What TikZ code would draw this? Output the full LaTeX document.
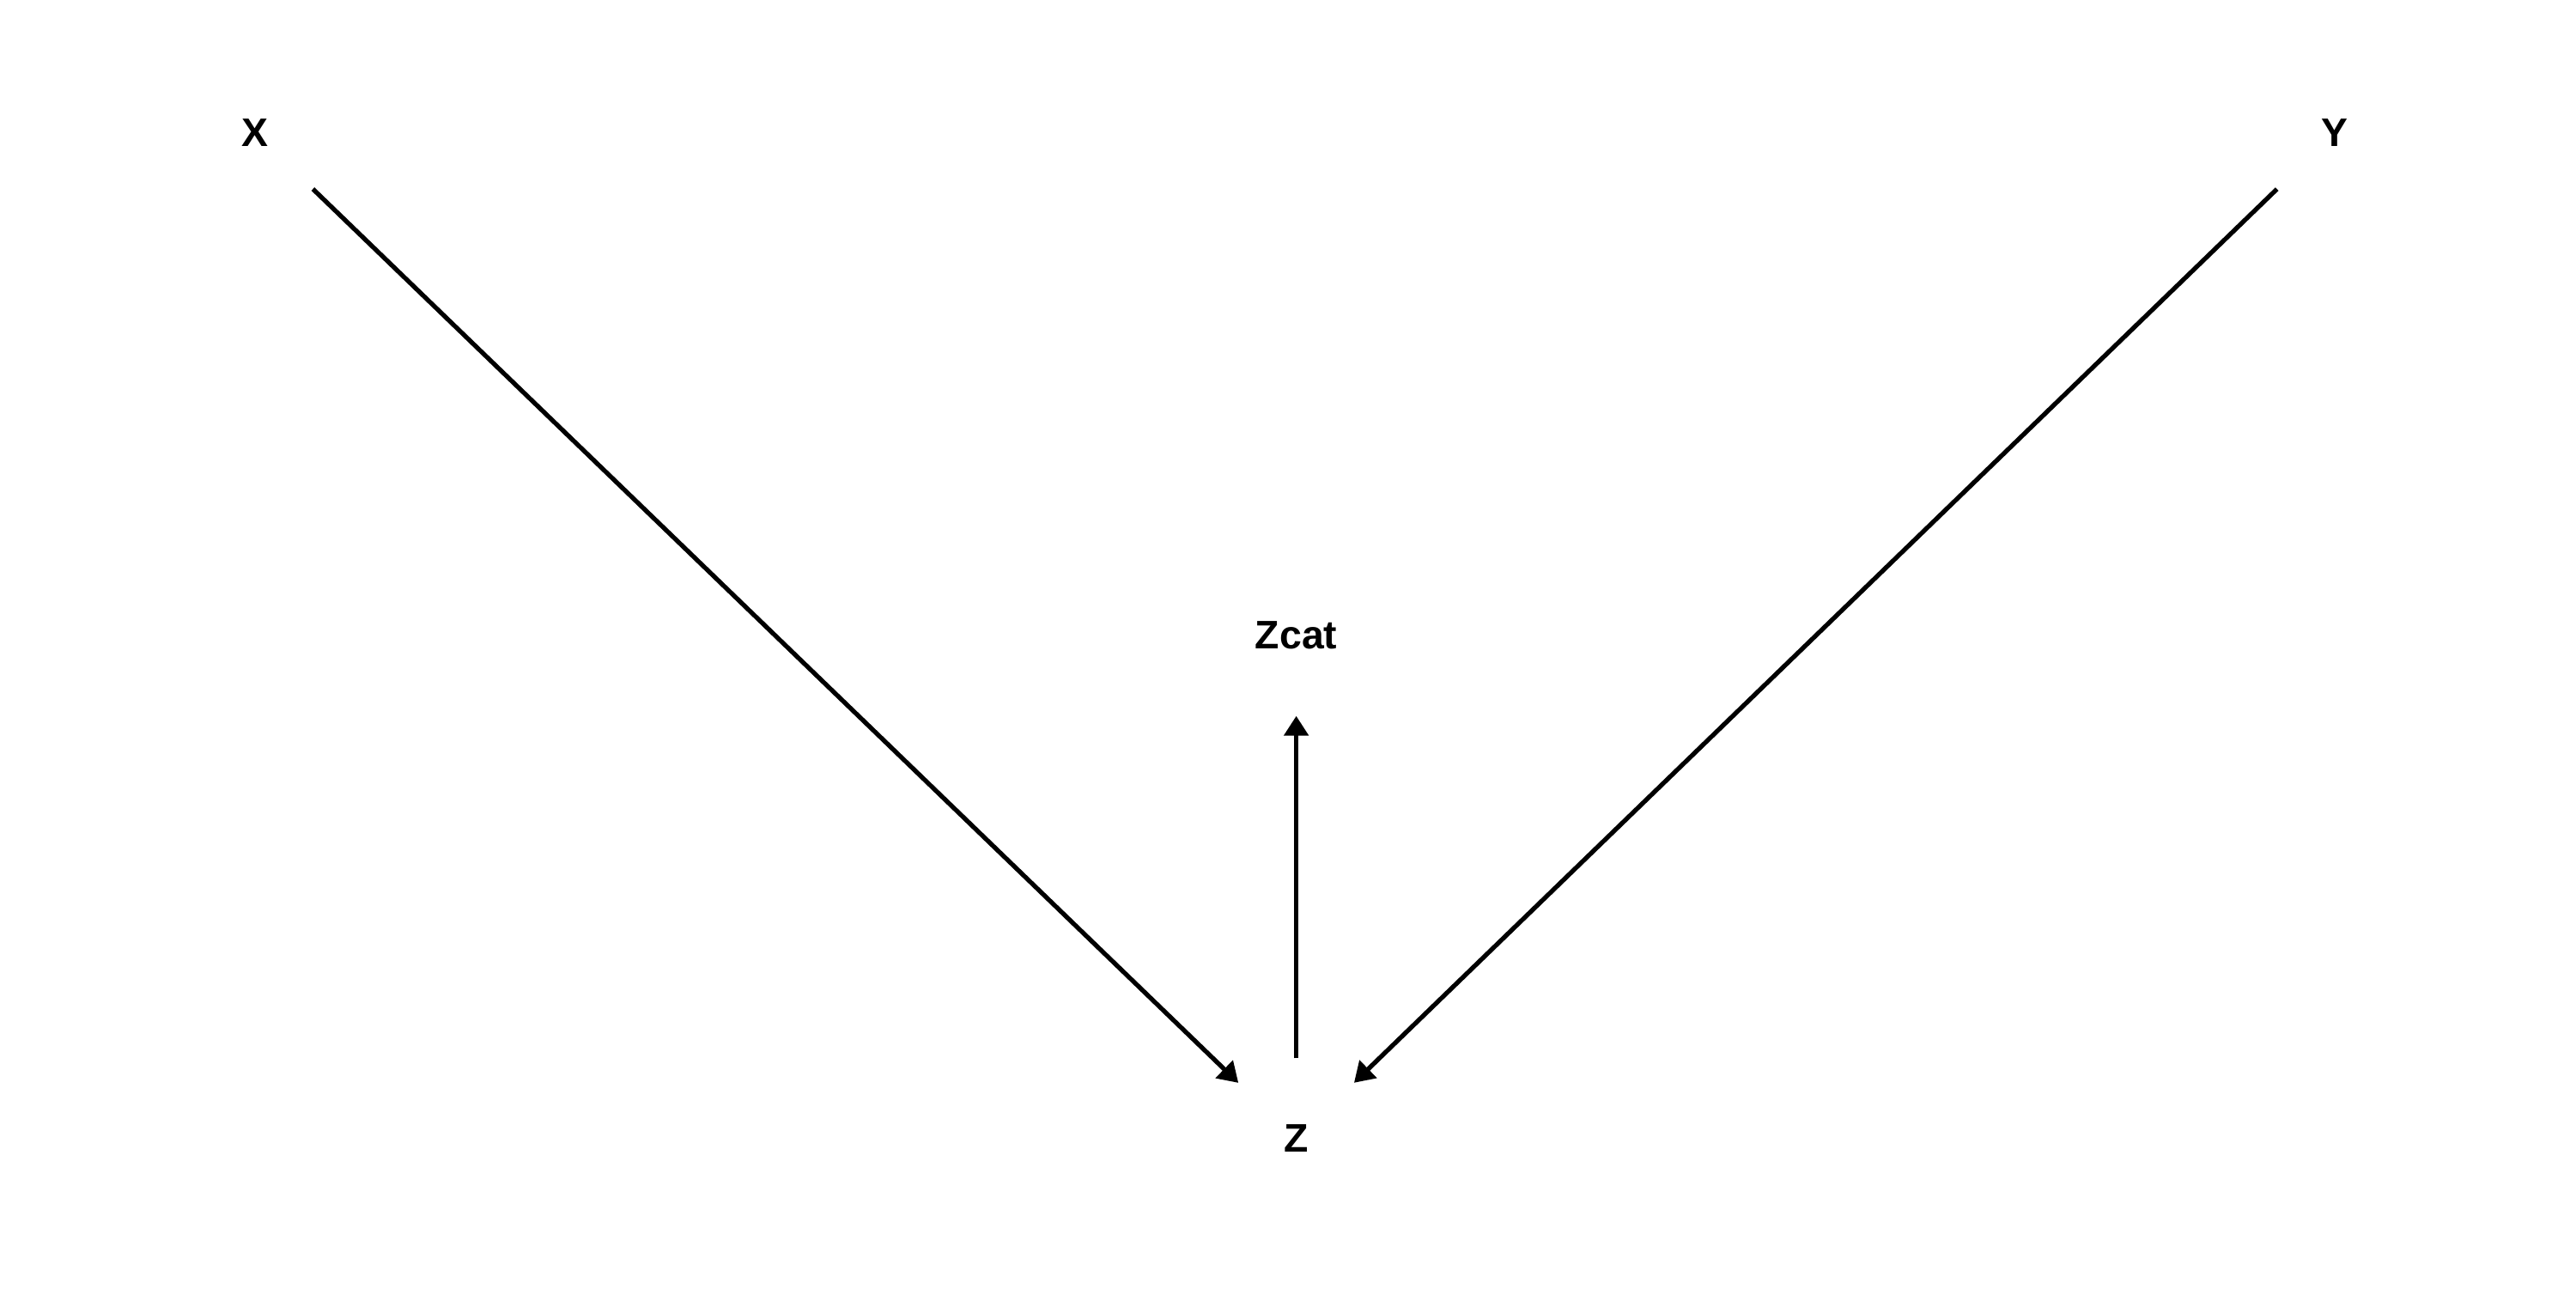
\documentclass[tikz,border=0pt]{standalone}
\usepackage{fontspec}
\setmainfont{Liberation Sans}
\newfontfamily\lblfont{Liberation Sans Bold}
\usetikzlibrary{arrows.meta}
\begin{document}
\begin{tikzpicture}
\useasboundingbox[fill=white] (0,0) rectangle (30,15);
\tikzset{
  var/.style={circle, minimum size=1.86cm, inner sep=0pt, font=\lblfont\fontsize{13.2}{15}\selectfont},
  edge/.style={line width=1.5pt, -{Triangle[length=0.23cm, width=0.28cm]}}
}
\node[var] (X) at (2.97,13.45) {X};
\node[var] (Y) at (27.19,13.45) {Y};
\node[var] (Zcat) at (15.096,7.6) {Zcat};
\node[var] (Z) at (15.096,1.74) {Z};
\draw[edge] (X) -- (Z);
\draw[edge] (Y) -- (Z);
\draw[edge] (Z) -- (Zcat);
\end{tikzpicture}
\end{document}
